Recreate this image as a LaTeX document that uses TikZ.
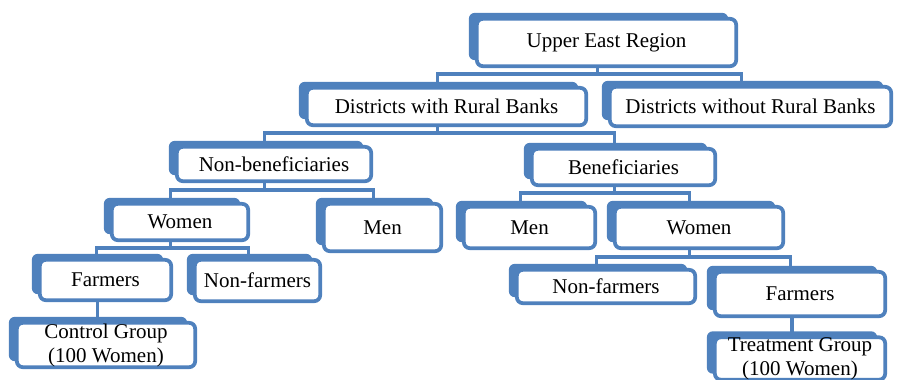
\documentclass[tikz,border=0pt]{standalone}
\usepackage{fontspec}
\setmainfont{Liberation Serif}
\usetikzlibrary{shadows,backgrounds}

\definecolor{boxblue}{RGB}{79,129,189}

\tikzset{every picture/.style={line width=0.75pt}}
\tikzset{
  levelbox/.style={draw=boxblue, fill=white, line width=2.8pt, rounded corners=4.5pt,
    inner sep=0pt, align=center, font=\fontsize{15.75}{18}\selectfont,
    general shadow={fill=boxblue, shadow xshift=-6pt, shadow yshift=4.5pt}},
  link/.style={draw=boxblue, line width=2.5pt},
}

\begin{document}
\begin{tikzpicture}[x=0.75pt,y=0.75pt,yscale=-1,xscale=1]
\useasboundingbox (0,0) rectangle (898,379);

%Level 1
\node (uer) at (606.5,42.5) [levelbox, minimum width=194.5pt, minimum height=35.5pt] {Upper East Region};
%Level 2
\node (dwrb) at (446.5,106.5) [levelbox, minimum width=209.5pt, minimum height=28pt] {Districts with Rural Banks};
\node (dwor) at (750.5,106.5) [levelbox, minimum width=211pt, minimum height=29.5pt] {Districts without Rural Banks};
%Level 3
\node (nonben) at (274,164) [levelbox, minimum width=145.75pt, minimum height=25.75pt] {Non-beneficiaries};
\node (ben) at (623.5,167) [levelbox, minimum width=137.5pt, minimum height=27.25pt] {Beneficiaries};
%Level 4
\node (womenl) at (180,222) [levelbox, minimum width=102.25pt, minimum height=27.25pt] {Women};
\node (menl) at (382.5,227.5) [levelbox, minimum width=88pt, minimum height=35.5pt] {Men};
\node (menr) at (529.5,227.5) [levelbox, minimum width=98.5pt, minimum height=31pt] {Men};
\node (womenr) at (699,227.5) [levelbox, minimum width=126.25pt, minimum height=31pt] {Women};
%Level 5
\node (farml) at (105.5,280) [levelbox, minimum width=98.5pt, minimum height=30.25pt] {Farmers};
\node (nonfarml) at (257.5,280.5) [levelbox, minimum width=94pt, minimum height=31pt] {Non-farmers};
\node (nonfarmr) at (606,286.5) [levelbox, minimum width=133.75pt, minimum height=25pt] {Non-farmers};
\node (farmr) at (800,294) [levelbox, minimum width=127.75pt, minimum height=33.25pt] {Farmers};
%Level 6
\node (control) at (106,345) [levelbox, minimum width=133.75pt, minimum height=33.25pt] {Control Group\\(100 Women)};
\node (treat) at (800,358.5) [levelbox, minimum width=127.75pt, minimum height=31pt] {Treatment Group\\(100 Women)};

%Connectors
\begin{scope}[on background layer]
\draw[link] ([xshift=-7pt]uer.south) -- ++(0,6) -| ([xshift=-7pt]dwrb.north);
\draw[link] ([xshift=-7pt]uer.south) -- ++(0,6) -| ([xshift=-7pt]dwor.north);
\draw[link] ([xshift=-7pt]dwrb.south) -- ++(0,6) -| ([xshift=-7pt]nonben.north);
\draw[link] ([xshift=-7pt]dwrb.south) -- ++(0,6) -| ([xshift=-7pt]ben.north);
\draw[link] ([xshift=-7pt]nonben.south) -- ++(0,7) -| ([xshift=-7pt]womenl.north);
\draw[link] ([xshift=-7pt]nonben.south) -- ++(0,7) -| ([xshift=-7pt]menl.north);
\draw[link] ([xshift=-7pt]ben.south) -- ++(0,6) -| ([xshift=-7pt]menr.north);
\draw[link] ([xshift=-7pt]ben.south) -- ++(0,6) -| ([xshift=-7pt]womenr.north);
\draw[link] ([xshift=-7pt]womenl.south) -- ++(0,6) -| ([xshift=-7pt]farml.north);
\draw[link] ([xshift=-7pt]womenl.south) -- ++(0,6) -| ([xshift=-7pt]nonfarml.north);
\draw[link] ([xshift=-7pt]womenr.south) -- ++(0,7) -| ([xshift=-7pt]nonfarmr.north);
\draw[link] ([xshift=-7pt]womenr.south) -- ++(0,7) -| ([xshift=-7pt]farmr.north);
\draw[link] ([xshift=-6pt]farml.south) -- ([xshift=-6pt]farml.south |- control.north);
\draw[link] ([xshift=-6pt]farmr.south) -- ([xshift=-6pt]farmr.south |- treat.north);
\end{scope}

\end{tikzpicture}
\end{document}
